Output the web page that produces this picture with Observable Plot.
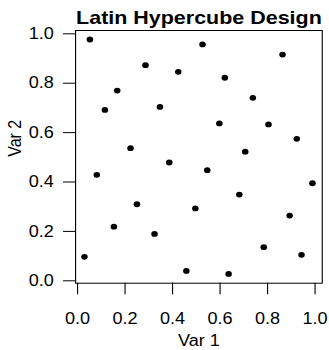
<!DOCTYPE html>
<html>
<head>
<meta charset="utf-8">
<script src="https://cdn.jsdelivr.net/npm/d3@7"></script>
<script src="https://cdn.jsdelivr.net/npm/@observablehq/plot@0.6"></script>
<style>
  html, body { margin: 0; padding: 0; background: white; }
</style>
</head>
<body>
<div id="chart"></div>
<script>
const title = "Latin Hypercube Design";
const xLabel = "Var 1";
const yLabel = "Var 2";
const xTicks = [0, 0.2, 0.4, 0.6, 0.8, 1.0];
const yTicks = [0, 0.2, 0.4, 0.6, 0.8, 1.0];
const var1 = [0.029,0.052,0.081,0.115,0.153,0.167,0.223,0.250,0.286,0.324,0.347,0.386,0.424,0.458,0.496,0.526,0.546,0.597,0.620,0.636,0.681,0.706,0.738,0.784,0.804,0.863,0.893,0.923,0.943,0.989];
const var2 = [0.097,0.977,0.429,0.692,0.219,0.770,0.537,0.310,0.873,0.190,0.704,0.479,0.846,0.040,0.293,0.957,0.448,0.637,0.822,0.028,0.349,0.523,0.741,0.136,0.633,0.916,0.264,0.575,0.105,0.395];

const data = var1.map((v, i) => ({v1: v, v2: var2[i]}));

const S = 1.13; // horizontal stretch of the reference
const W = 329 / S;
const fmt = d3.format(".1f");

const svg = Plot.plot({
  width: W,
  height: 350,
  marginLeft: 75 / S,
  marginRight: 7.3 / S,
  marginTop: 30,
  marginBottom: 67.3,
  style: {fontFamily: "'Liberation Sans', Arial, sans-serif", fontSize: "16px", color: "black", background: "white"},
  x: {domain: [-0.0084, 1.0303], ticks: xTicks, tickFormat: fmt, tickSize: 11.6, tickPadding: 17.4, label: null},
  y: {domain: [-0.0097, 1.0134], ticks: yTicks, tickFormat: fmt, tickSize: 10.6, tickPadding: 8.6, label: null},
  marks: [
    Plot.frame({stroke: "black"}),
    Plot.dot(data, {x: "v1", y: "v2", r: 2.9, fill: "black", stroke: null}),
    Plot.text([title], {text: d => d, frameAnchor: "top", lineAnchor: "bottom", dy: -6.7, fontWeight: "bold", fontSize: 19}),
    Plot.text([xLabel], {text: d => d, frameAnchor: "bottom", lineAnchor: "bottom", dy: 63.2, fontSize: 16}),
    Plot.text([yLabel], {text: d => d, frameAnchor: "left", rotate: -90, lineAnchor: "bottom", dx: -48.2, fontSize: 16})
  ]
});

svg.setAttribute("width", 329);
svg.setAttribute("height", 350);
svg.setAttribute("preserveAspectRatio", "none");
svg.style.width = "329px";
svg.style.height = "350px";
svg.style.maxWidth = "none";
document.getElementById("chart").appendChild(svg);
</script>
</body>
</html>
